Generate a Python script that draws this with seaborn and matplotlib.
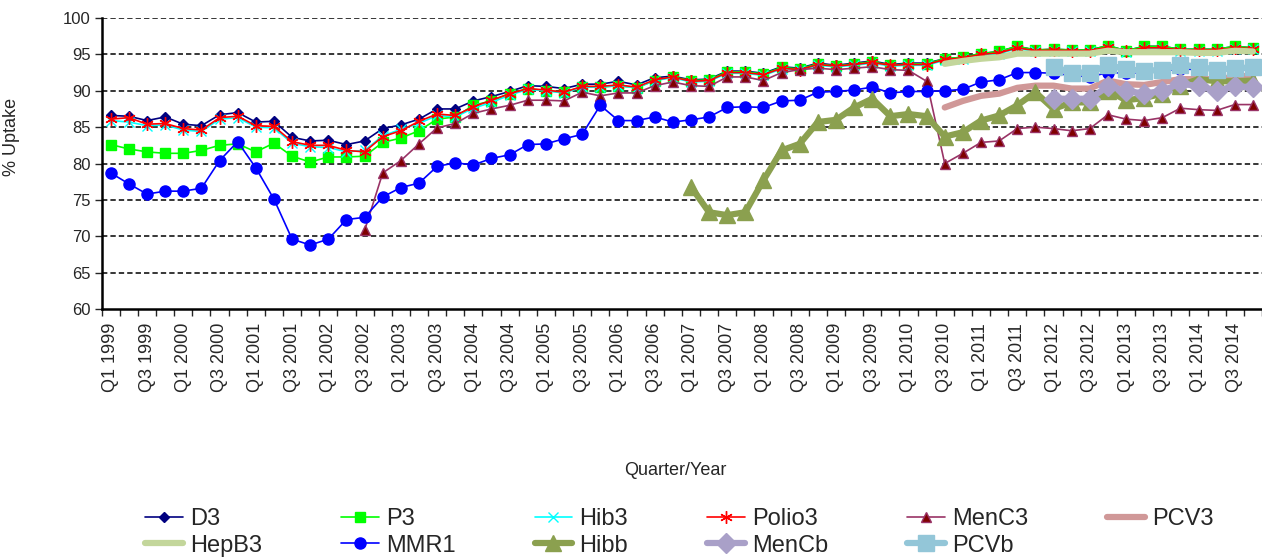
import numpy as np
import matplotlib
matplotlib.use("Agg")
import matplotlib.pyplot as plt
import seaborn as sns

nan = np.nan

# Quarters Q1 1999 .. Q4 2014
years = list(range(1999, 2015))
quarters = [f"Q{q} {y}" for y in years for q in range(1, 5)]

d3 = [86.6, 86.5, 85.9, 86.4, 85.4, 85.2, 86.7, 87.0, 85.7, 85.8, 83.6, 83.1, 83.2, 82.6, 83.1, 84.8,
      85.3, 86.1, 87.5, 87.5, 88.6, 89.2, 89.9, 90.7, 90.6, 90.3, 90.9, 90.9, 91.3, 90.8, 91.8, 92.0,
      91.5, 91.6, 92.7, 92.7, 92.4, 93.3, 93.1, 93.8, 93.5, 93.8, 94.1, 93.6, 93.8, 93.8, 94.4, 94.6,
      95.1, 95.4, 96.1, 95.6, 95.7, 95.6, 95.6, 96.2, 95.5, 96.1, 96.1, 95.7, 95.7, 95.7, 96.1, 95.9]

p3 = [82.6, 82.0, 81.6, 81.4, 81.4, 81.8, 82.5, 82.7, 81.6, 82.8, 81.0, 80.2, 80.9, 80.9, 81.0, 82.9,
      83.5, 84.5, 86.1, 86.4, 88.0, 88.6, 89.6, 90.3, 90.0, 89.8, 90.5, 90.5, 90.7, 90.4, 91.4, 91.9,
      91.4, 91.5, 92.6, 92.6, 92.3, 93.2, 93.0, 93.7, 93.4, 93.7, 94.0, 93.5, 93.7, 93.7, 94.4, 94.6,
      95.1, 95.4, 96.1, 95.6, 95.7, 95.6, 95.6, 96.2, 95.5, 96.1, 96.1, 95.7, 95.7, 95.7, 96.1, 95.9]

hib3 = [85.9, 85.7, 85.2, 85.3, 84.6, 84.4, 86.1, 86.3, 85.0, 84.9, 82.8, 82.3, 82.2, 81.6, 81.8, 83.8,
        84.7, 85.5, 86.6, 86.4, 87.6, 88.4, 89.4, 90.2, 90.0, 89.7, 90.5, 90.5, 90.7, 90.4, 91.4, 91.8,
        91.2, 91.3, 92.4, 92.4, 92.1, 93.0, 92.8, 93.5, 93.3, 93.5, 93.8, 93.4, 93.5, 93.5, 94.2, 94.4,
        94.9, 95.1, 95.8, 95.4, 95.5, 95.4, 95.4, 95.9, 95.3, 95.8, 95.8, 95.5, 95.5, 95.5, 95.8, 95.7]

polio3 = [86.1, 86.3, 85.4, 85.5, 84.8, 84.6, 86.3, 86.5, 85.2, 85.1, 83.0, 82.5, 82.5, 81.8, 81.6, 83.7,
          84.5, 85.8, 86.8, 86.6, 87.8, 88.7, 89.6, 90.3, 90.1, 89.8, 90.6, 90.6, 90.8, 90.5, 91.5, 91.9,
          91.3, 91.4, 92.5, 92.5, 92.2, 93.1, 92.9, 93.6, 93.4, 93.6, 93.9, 93.5, 93.6, 93.6, 94.3, 94.5,
          95.0, 95.2, 95.9, 95.5, 95.6, 95.5, 95.5, 96.0, 95.4, 95.9, 95.9, 95.6, 95.6, 95.6, 95.9, 95.8]

menc3 = [nan] * 14 + [70.8, 78.7,
         80.4, 82.7, 84.9, 85.5, 86.9, 87.5, 88.0, 88.7, 88.7, 88.6, 89.8, 89.3, 89.7, 89.7, 90.7, 91.2,
         90.7, 90.6, 91.9, 91.9, 91.4, 92.5, 92.9, 93.1, 92.9, 93.1, 93.3, 92.9, 92.8, 91.3, 80.0, 81.4,
         82.9, 83.1, 84.8, 85.0, 84.8, 84.5, 84.8, 86.7, 86.1, 85.9, 86.3, 87.6, 87.4, 87.3, 88.1, 88.1]

pcv3 = [nan] * 46 + [87.7, 88.6, 89.3, 89.6, 90.4, 90.7, 90.7, 90.3, 90.3, 91.4, 90.9, 90.8, 91.2,
                     91.6, 91.6, 91.6, 91.9, 92.1]

hepb3 = [nan] * 46 + [93.7, 94.1, 94.4, 94.6, 95.1, 95.1, 95.1, 95.1, 95.1, 95.5, 95.3, 95.3, 95.3,
                      95.3, 95.2, 95.2, 95.5, 95.4]

mmr1 = [78.7, 77.2, 75.8, 76.2, 76.2, 76.6, 80.4, 83.0, 79.4, 75.1, 69.6, 68.8, 69.6, 72.3, 72.6, 75.4,
        76.7, 77.3, 79.6, 80.1, 79.8, 80.7, 81.2, 82.6, 82.7, 83.4, 84.0, 88.0, 85.9, 85.9, 86.4, 85.7,
        86.0, 86.4, 87.7, 87.8, 87.7, 88.6, 88.7, 89.8, 89.9, 90.1, 90.5, 89.7, 89.9, 89.9, 90.0, 90.2,
        91.2, 91.5, 92.5, 92.5, 92.4, 92.1, 91.9, 92.5, 92.4, 92.5, 92.7, 93.0, 92.9, 92.8, 92.9, 92.9]

hibb = [nan] * 32 + [76.8, 73.3, 72.9, 73.3, 77.7, 81.8, 82.7, 85.7, 86.0, 87.7, 88.9, 86.5, 86.8, 86.5,
                     83.7, 84.3, 85.9, 86.6, 88.0, 89.8, 87.5, 88.4, 88.4, 90.0, 88.7, 89.0, 89.6, 90.7,
                     91.6, 91.3, 91.3, 91.4]

mencb = [nan] * 52 + [88.9, 88.9, 88.9, 90.6, 90.0, 89.6, 90.0, 91.0, 90.6, 90.0, 90.6, 90.5]

pcvb = [nan] * 52 + [93.3, 92.5, 92.5, 93.5, 93.0, 92.7, 92.9, 93.6, 93.3, 92.9, 93.1, 93.2]

sns.set_style("white")
plt.rcParams['font.family'] = ['Liberation Sans', 'DejaVu Sans']

fig = plt.figure(figsize=(12.62, 5.57), dpi=100)
ax = fig.add_axes([0.0806, 0.4452, 0.9194, 0.5225])

x = np.arange(len(quarters))

# name, values, color, marker, markersize, linewidth, marker face, marker edge
series = [
    ("D3", d3, "#000080", "D", 5, 1.2, "#000080", "#000080"),
    ("P3", p3, "#00FF00", "s", 7, 1.2, "#00FF00", "#00FF00"),
    ("Hib3", hib3, "#00FFFF", "x", 7, 1.2, "#00FFFF", "#00FFFF"),
    ("Polio3", polio3, "#FF0000", (6, 2, 0), 9, 1.2, "#FF0000", "#FF0000"),
    ("MenC3", menc3, "#993366", "^", 7, 1.2, "#800000", "#993366"),
    ("PCV3", pcv3, "#D09898", None, 0, 4.5, "#D09898", "#D09898"),
    ("HepB3", hepb3, "#C3D69B", None, 0, 4.5, "#C3D69B", "#C3D69B"),
    ("MMR1", mmr1, "#0000FF", "o", 8, 1.2, "#0000FF", "#0000FF"),
    ("Hibb", hibb, "#8BA04F", "^", 12, 4.5, "#8BA04F", "#8BA04F"),
    ("MenCb", mencb, "#A9A0C8", "D", 10, 4.5, "#A9A0C8", "#A9A0C8"),
    ("PCVb", pcvb, "#93C6D8", "s", 11, 4.5, "#93C6D8", "#93C6D8"),
]

lines = {}
for name, vals, col, mk, ms, lw, mfc, mec in series:
    vals = np.array(vals, dtype=float)
    ok = ~np.isnan(vals)
    sns.lineplot(x=x[ok], y=vals[ok], ax=ax, color=col, linewidth=lw,
                 marker=mk, markersize=ms, markerfacecolor=mfc, markeredgecolor=mec,
                 markeredgewidth=1.0, label=name, errorbar=None, legend=False)
    lines[name] = ax.lines[-1]

ax.set_xlim(-0.5, len(quarters) - 0.5)
ax.set_ylim(60, 100)
ax.set_yticks(np.arange(60, 101, 5))
ax.tick_params(axis='y', labelsize=12, length=5, width=1, direction='out', left=True, pad=3)

# ticks on category boundaries, labels every other quarter
ax.set_xticks(np.arange(-0.5, len(quarters), 1.0))
ax.set_xticklabels([])
ax.set_xticks(x[::2], minor=True)
ax.set_xticklabels(quarters[::2], minor=True, rotation=90, fontsize=13)
ax.tick_params(axis='x', which='major', length=5, width=1, direction='out', bottom=True)
ax.tick_params(axis='x', which='minor', length=0, pad=10)

for yv in range(65, 101, 5):
    ax.axhline(yv, color='black', linewidth=1.1, linestyle=(0, (3.5, 2)), zorder=0.5)

for side in ['top', 'right']:
    ax.spines[side].set_visible(False)
for side in ['left', 'bottom']:
    ax.spines[side].set_color('black')
    ax.spines[side].set_linewidth(1.8)

ax.set_ylabel("% Uptake", fontsize=13)
ax.yaxis.set_label_coords(-0.07, 0.59)
ax.set_xlabel("Quarter/Year", fontsize=13)
ax.xaxis.set_label_coords(0.494, -0.525)

order = ["D3", "HepB3", "P3", "MMR1", "Hib3", "Hibb", "Polio3", "MenCb", "MenC3", "PCVb", "PCV3"]
fig.legend([lines[n] for n in order], order, loc='upper left', ncol=6,
           bbox_to_anchor=(145 / 1262, 1 - 508 / 557), frameon=False, fontsize=17,
           handlelength=1.6, handletextpad=0.3, columnspacing=3.35, labelspacing=0.2,
           borderpad=0, borderaxespad=0)

fig.savefig("out.png", dpi=100)
